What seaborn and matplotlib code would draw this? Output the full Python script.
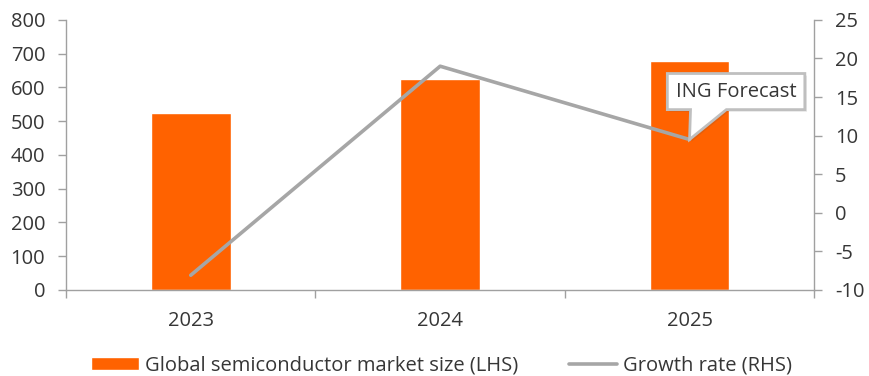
import pandas as pd
import matplotlib.pyplot as plt
import seaborn as sns
import numpy as np
from matplotlib.patches import Polygon
from matplotlib.transforms import Affine2D, ScaledTranslation
import matplotlib.patheffects as pe

years = ['2023', '2024', '2025']
market_size = [525, 626, 679]   # USD bn, LHS
growth = [-8.1, 19.0, 9.5]      # %, RHS

orange = '#FF6200'
grey = '#A6A6A6'
axis_col = '#A0A0A0'
txt_col = '#363636'
fs = 14.5

sns.set_style('white')
plt.rcParams['font.family'] = ['Open Sans', 'DejaVu Sans']
plt.rcParams['axes.unicode_minus'] = False

df = pd.DataFrame({'year': years, 'size': market_size, 'growth': growth})

fig = plt.figure(figsize=(8.69, 3.76), dpi=100)
ax = fig.add_axes([0.076, 0.229, 0.861, 0.718])

sns.barplot(data=df, x='year', y='size', color=orange, width=0.32, saturation=1,
            ax=ax, label='Global semiconductor market size (LHS)')
if ax.get_legend() is not None:
    ax.get_legend().remove()
ax.set_xlim(-0.5, 2.5)
ax.set_ylim(0, 800)
ax.set_yticks(np.arange(0, 801, 100))
ax.set_xlabel('')
ax.set_ylabel('')

ax2 = ax.twinx()
sns.lineplot(x=np.arange(len(years)), y=df['growth'], color=grey, lw=2.6, ax=ax2,
             label='Growth rate (RHS)', legend=False)
ax2.set_ylim(-10, 25)
ax2.set_yticks(np.arange(-10, 26, 5))
ax2.set_ylabel('')

for a in (ax, ax2):
    for s in a.spines.values():
        s.set_visible(False)
ax.spines['left'].set_visible(True)
ax.spines['bottom'].set_visible(True)
ax2.spines['right'].set_visible(True)
for s in (ax.spines['left'], ax.spines['bottom'], ax2.spines['right']):
    s.set_color(axis_col)
    s.set_linewidth(1)

ax.tick_params(axis='y', which='major', left=True, length=6, width=1, color=axis_col,
               labelsize=fs, labelcolor=txt_col, pad=9)
ax2.tick_params(axis='y', which='major', right=True, length=6, width=1, color=axis_col,
                labelsize=fs, labelcolor=txt_col, pad=9)
ax.set_xticks(np.arange(-0.5, len(years), 1), minor=True)
ax.tick_params(axis='x', which='minor', bottom=True, length=6, width=1, color=axis_col)
ax.tick_params(axis='x', which='major', bottom=False, length=0, labelsize=fs,
               labelcolor=txt_col, pad=15)

# speech-bubble callout (shape in points) anchored on the 2025 growth point
bubble = np.array([(-16, 21.5), (0.7, 21.5), (0, 0), (26.5, 21.5),
                   (83, 21.5), (83, 47.5), (-16, 47.5)])
anchor = ScaledTranslation(2, growth[2], ax2.transData)
bubble_tr = Affine2D().scale(1 / 72) + fig.dpi_scale_trans + anchor
callout = Polygon(bubble, closed=True, transform=bubble_tr, fc='white', ec='#BFBFBF',
                  lw=2, joinstyle='miter', zorder=4,
                  path_effects=[pe.SimplePatchShadow(offset=(1.5, -1.5), alpha=0.15),
                                pe.Normal()])
ax2.add_patch(callout)
ax2.annotate('ING Forecast', xy=(2, growth[2]), xytext=(-10, 34.5),
             textcoords='offset points', fontsize=fs, color=txt_col,
             ha='left', va='center', zorder=5)

h1, l1 = ax.get_legend_handles_labels()
h2, l2 = ax2.get_legend_handles_labels()
fig.legend(h1 + h2, l1 + l2, loc='lower center', bbox_to_anchor=(0.508, -0.048), ncol=2,
           frameon=False, fontsize=fs, labelcolor=txt_col, handlelength=2.4,
           handleheight=0.6, handletextpad=0.3, columnspacing=2.5)

fig.savefig('out.png', dpi=100)
